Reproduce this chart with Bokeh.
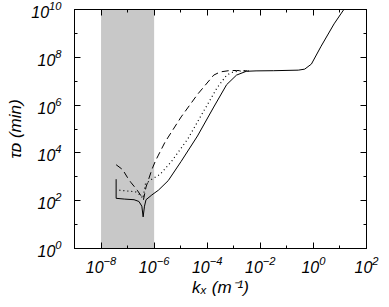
from bokeh.plotting import figure
from bokeh.models import (LogAxis, FixedTicker, LogTickFormatter, BoxAnnotation,
                          Range1d, CustomJSTickFormatter)
from bokeh.embed import file_html
from bokeh.resources import INLINE

# ---- data ----
kx_solid = [3.7e-8, 3.7e-8, 7.5e-8, 1.75e-7, 2.67e-7, 3.44e-7, 3.85e-7, 4.33e-7, 4.95e-7,
            8.2e-7, 1.45e-6, 3.4e-6, 1.04e-5, 4.3e-5, 1.76e-4, 5.4e-4, 1.27e-3, 2.96e-3,
            6.9e-3, 0.032, 0.27, 0.47, 0.84, 1.95, 6.0, 14.0, 22.0]
tau_solid = [794, 126, 117, 110, 93, 59, 21, 59, 110,
             174, 275, 692, 4.4e3, 5.1e4, 8.3e5, 7.2e6, 1.8e7, 2.6e7,
             2.7e7, 2.75e7, 2.9e7, 3.2e7, 5.2e7, 2.9e8, 2.5e9, 1.0e10, 3.2e10]

kx_dashed = [3.7e-8, 6.5e-8, 9.9e-8, 1.32e-7, 2.31e-7, 3.36e-7, 3.98e-7, 4.95e-7, 8.2e-7,
             1.1e-6, 1.45e-6, 2.56e-6, 1.04e-5, 4.3e-5, 1.76e-4, 3.1e-4, 7.2e-4, 1.27e-3, 3.2e-3]
tau_dashed = [3.2e3, 2.0e3, 933, 589, 275, 148, 112, 372, 2.0e3,
              4.4e3, 8.1e3, 2.8e4, 3.2e5, 2.8e6, 1.8e7, 2.45e7, 2.8e7, 2.8e7, 2.7e7]

kx_dotted = [4.9e-8, 2.02e-7, 2.9e-7, 3.8e-7, 4.7e-7, 8.2e-7, 1.67e-6, 4.5e-6, 1.84e-5,
             7.6e-5, 2.33e-4, 5.4e-4, 9.6e-4, 1.94e-3, 4.5e-3]
tau_dotted = [275, 234, 178, 126, 501, 794, 1.26e3, 4.4e3, 3.8e4,
              6.0e5, 5.2e6, 1.8e7, 2.45e7, 2.7e7, 2.7e7]

band_left, band_right = 1e-8, 1e-6

x_major = [1e-8, 1e-6, 1e-4, 1e-2, 1e0, 1e2]
x_minor = [1e-9, 1e-7, 1e-5, 1e-3, 1e-1, 1e1]
y_major = [1e0, 1e2, 1e4, 1e6, 1e8, 1e10]
y_minor = [1e1, 1e3, 1e5, 1e7, 1e9]

x_label = "kₓ (m⁻¹)"
y_label = "τᴅ (min)"

# ---- figure ----
W, H = 381, 299
p = figure(width=W, height=H, x_axis_type="log", y_axis_type="log",
           x_range=Range1d(1e-9, 1e2), y_range=Range1d(1e0, 1e10),
           output_backend="svg", toolbar_location=None,
           min_border_left=74, min_border_right=15, min_border_top=9, min_border_bottom=46)
p.grid.visible = False
p.outline_line_color = "black"
p.background_fill_color = "white"
p.border_fill_color = "white"

FONT = "Liberation Sans"

def style_axis(ax, ticks, minor, show_labels):
    ax.ticker = FixedTicker(ticks=ticks, minor_ticks=minor)
    ax.axis_line_color = "black"
    ax.axis_line_width = 1
    ax.major_tick_line_color = "black"
    ax.minor_tick_line_color = "black"
    ax.major_tick_in = 6
    ax.major_tick_out = 0
    ax.minor_tick_in = 3
    ax.minor_tick_out = 0
    ax.major_label_text_font = FONT
    ax.major_label_text_font_style = "italic"
    ax.major_label_text_color = "black"
    ax.major_label_text_font_size = "16px"
    ax.axis_label_text_font = FONT
    ax.axis_label_text_font_style = "italic"
    ax.axis_label_text_font_size = "17px"
    ax.axis_label_text_color = "black"
    if show_labels:
        ax.formatter = LogTickFormatter()
    else:
        ax.formatter = CustomJSTickFormatter(code="return '';")
        ax.major_label_standoff = 0

style_axis(p.xaxis[0], x_major, x_minor, True)
p.xaxis[0].major_label_standoff = 7
p.xaxis[0].axis_label = x_label
p.xaxis[0].axis_label_standoff = 2
style_axis(p.yaxis[0], y_major, y_minor, True)
p.yaxis[0].major_label_standoff = 13
p.yaxis[0].axis_label = y_label
p.yaxis[0].axis_label_standoff = 3

top_ax = LogAxis()
style_axis(top_ax, x_major, x_minor, False)
p.add_layout(top_ax, "above")
right_ax = LogAxis()
style_axis(right_ax, y_major, y_minor, False)
p.add_layout(right_ax, "right")

band = BoxAnnotation(left=band_left, right=band_right, fill_color="#c8c8c8",
                     fill_alpha=1.0, line_color=None, level="underlay")
p.add_layout(band)

p.line(kx_solid, tau_solid, line_color="black", line_width=1)
p.line(kx_dashed, tau_dashed, line_color="black", line_width=1, line_dash="7 4")
p.line(kx_dotted, tau_dotted, line_color="black", line_width=1.2, line_dash="1 3")

open("out.html", "w").write(file_html(p, INLINE))
